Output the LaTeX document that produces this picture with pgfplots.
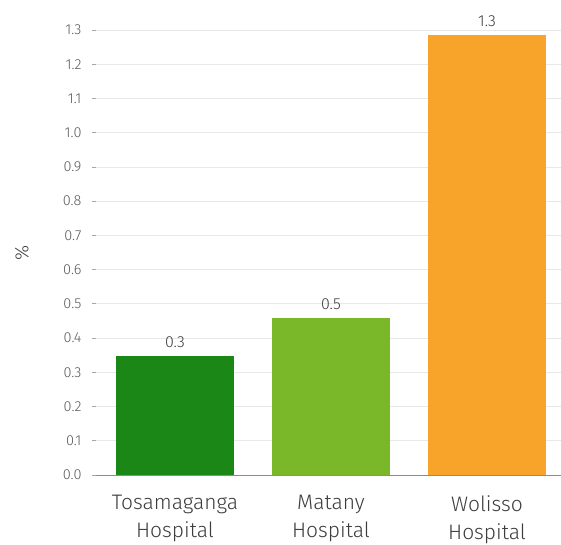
\documentclass[border=0pt]{standalone}
\usepackage{pgfplots}
\pgfplotsset{compat=1.18}
\usepackage{fontspec}
\setmainfont{Fira Sans}[UprightFont=* Light]
\definecolor{darkgreen}{RGB}{27,135,22}
\definecolor{lightgreen}{RGB}{122,184,42}
\definecolor{orangebar}{RGB}{248,164,42}
\definecolor{gridgray}{RGB}{232,232,232}
\definecolor{txtgray}{RGB}{60,60,60}
\begin{document}
\begin{tikzpicture}
\begin{axis}[
    name=ax,
    scale only axis,
    width=465pt, height=445pt,
    ybar, bar shift=0pt, bar width=0.756,
    xmin=-0.506, xmax=2.474,
    ymin=0, ymax=1.3,
    xtick={0,1,2},
    xticklabels={Tosamaganga\\Hospital, Matany\\Hospital, Wolisso\\Hospital},
    xticklabel style={align=center, font=\fontsize{21}{28}\selectfont, text=txtgray, yshift=-13pt},
    x tick style={draw=none},
    ytick={0,0.1,0.2,0.3,0.4,0.5,0.6,0.7,0.8,0.9,1.0,1.1,1.2,1.3},
    yticklabels={0.0,0.1,0.2,0.3,0.4,0.5,0.6,0.7,0.8,0.9,1.0,1.1,1.2,1.3},
    yticklabel style={font=\fontsize{14.5}{16}\selectfont, text=txtgray!85, xshift=-7pt},
    tick align=outside, major tick length=4pt,
    y tick style={draw=gray!70, line width=0.8pt},
    axis x line*=bottom, axis y line*=left,
    y axis line style={draw=none},
    x axis line style={draw=gray!90, line width=0.9pt, -},
    ymajorgrids, grid style={draw=gridgray, line width=0.8pt},
    ylabel={\%},
    every axis y label/.style={at={(rel axis cs:0,0.5)}, xshift=-74pt, rotate=90, anchor=center, font=\fontsize{19}{21}\selectfont, text=txtgray},
    nodes near coords={\pgfmathprintnumber[fixed, fixed zerofill, precision=1, assume math mode=true]{\pgfplotspointmeta}},
    every node near coord/.style={font=\fontsize{16}{18}\selectfont, text=txtgray, yshift=5pt},
]
\addplot[fill=darkgreen, draw=none] coordinates {(0,0.348)};
\addplot[fill=lightgreen, draw=none] coordinates {(1,0.459)};
\addplot[fill=orangebar, draw=none] coordinates {(2,1.284)};
\end{axis}
\pgfresetboundingbox
\path (ax.south west) ++(-96pt,-69pt) rectangle ++(561pt,544pt);
\end{tikzpicture}
\end{document}
